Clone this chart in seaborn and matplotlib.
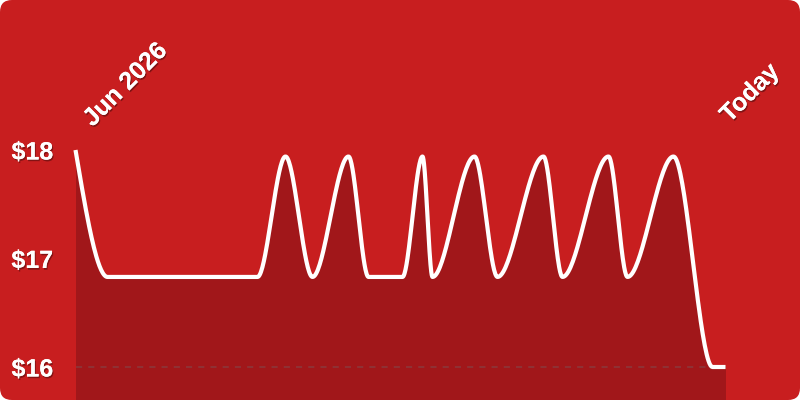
import numpy as np
import pandas as pd
import matplotlib
matplotlib.use("Agg")
import matplotlib.pyplot as plt
import matplotlib.patheffects as pe
from matplotlib.patches import FancyBboxPatch
import seaborn as sns

# ---- data ----
t = [0, 32, 182, 210, 237, 273, 293, 327, 347, 357, 399, 422, 468, 487, 533, 552, 598, 637, 650]
price = [18.0, 16.83, 16.83, 17.94, 16.83, 17.94, 16.83, 16.83, 17.94, 16.83,
         17.94, 16.83, 17.94, 16.83, 17.94, 16.83, 17.94, 16.0, 16.0]
y_ticks = [16, 17, 18]
y_tick_labels = ["$16", "$17", "$18"]
start_label = "Jun 2026"
end_label = "Today"

BG = "#C81E1F"
FILL = "#A1171A"


def monotone_x(x, y, n_per=40):
    """d3 curveMonotoneX style interpolation (Fritsch-Carlson tangents)."""
    x = np.asarray(x, float)
    y = np.asarray(y, float)
    n = len(x)
    h = np.diff(x)
    s = np.diff(y) / h
    m = np.zeros(n)
    for i in range(1, n - 1):
        h0, h1 = h[i - 1], h[i]
        s0, s1 = s[i - 1], s[i]
        p = (s0 * h1 + s1 * h0) / (h0 + h1)
        m[i] = (np.sign(s0) + np.sign(s1)) * min(abs(s0), abs(s1), 0.5 * abs(p))
    m[0] = (3 * s[0] - m[1]) / 2
    m[-1] = (3 * s[-1] - m[-2]) / 2
    xs, ys = [], []
    for i in range(n - 1):
        u = np.linspace(0, 1, n_per, endpoint=(i == n - 2))
        h00 = 2 * u**3 - 3 * u**2 + 1
        h10 = u**3 - 2 * u**2 + u
        h01 = -2 * u**3 + 3 * u**2
        h11 = u**3 - u**2
        xs.append(x[i] + u * h[i])
        ys.append(h00 * y[i] + h10 * h[i] * m[i] + h01 * y[i + 1] + h11 * h[i] * m[i + 1])
    return np.concatenate(xs), np.concatenate(ys)


xs, ys = monotone_x(t, price)
df = pd.DataFrame({"t": xs, "price": ys})

sns.set_theme(style="white")
plt.rcParams["font.family"] = ["Liberation Sans", "DejaVu Sans"]

fig = plt.figure(figsize=(8, 4), dpi=100)
fig.patch.set_facecolor("white")
bg = FancyBboxPatch((0, 0), 8, 4, boxstyle="round,pad=0,rounding_size=0.12",
                    transform=fig.dpi_scale_trans, facecolor=BG, edgecolor="none",
                    zorder=-10)
fig.patches.append(bg)

ax = fig.add_axes([75.5 / 800, 0, 650 / 800, 1])
ax.set_facecolor("none")

y_bottom = 16 - 33 / 108.5
y_top = 16 + 367 / 108.5
ax.set_xlim(0, 650)
ax.set_ylim(y_bottom, y_top)

ax.fill_between(df["t"], df["price"], y_bottom, color=FILL, linewidth=0, zorder=1)
ax.axhline(16, color="#8a3a3c", linewidth=1.1, linestyle=(0, (4, 4)), zorder=2)
sns.lineplot(data=df, x="t", y="price", ax=ax, color="white", linewidth=3,
             zorder=3, clip_on=False, sort=False)
for ln in ax.lines:
    ln.set_solid_capstyle("butt")
    ln.set_solid_joinstyle("round")

shadow = [pe.withSimplePatchShadow(offset=(0.8, -1.2), shadow_rgbFace="black", alpha=0.35),
          pe.Normal()]

ax.set_yticks(y_ticks)
ax.set_yticklabels(y_tick_labels)
ax.tick_params(axis="y", length=0, pad=16, labelsize=18, labelcolor="white")
for lab in ax.get_yticklabels():
    lab.set_fontweight("bold")
    lab.set_path_effects(shadow)
ax.set_xticks([])
ax.set_xlabel("")
ax.set_ylabel("")
for sp in ax.spines.values():
    sp.set_visible(False)

fig.text(96 / 800, 1 - 131 / 400, start_label, rotation=45, rotation_mode="anchor",
         ha="left", va="bottom", fontsize=18, fontweight="bold", color="white",
         path_effects=shadow)
fig.text(733 / 800, 1 - 127 / 400, end_label, rotation=45, rotation_mode="anchor",
         ha="left", va="bottom", fontsize=18, fontweight="bold", color="white",
         path_effects=shadow)

fig.savefig("out.png", dpi=100, facecolor=fig.get_facecolor())
